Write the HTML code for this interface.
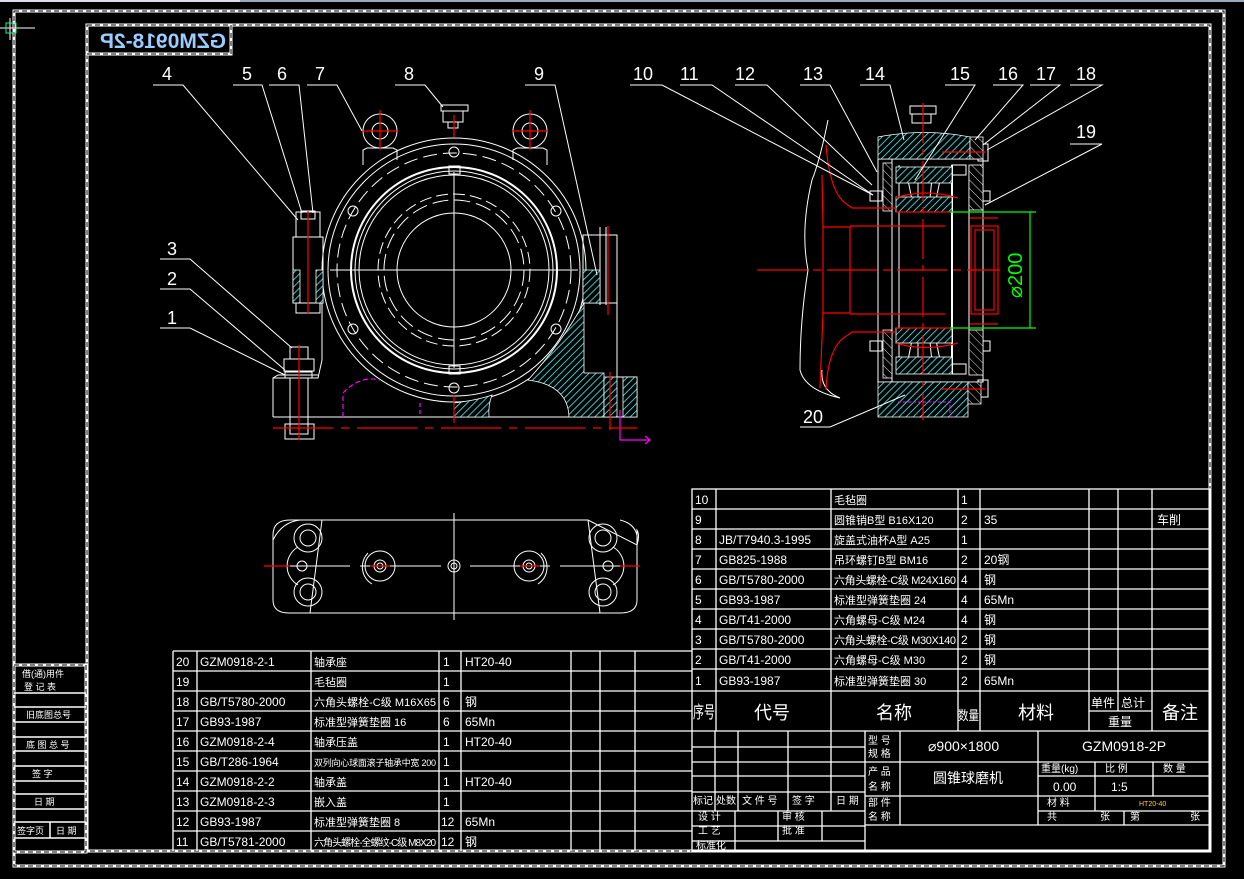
<!DOCTYPE html>
<html><head><meta charset="utf-8"><style>
html,body{margin:0;padding:0;background:#000;}
svg{display:block;}
text{font-family:"Liberation Sans","Noto Sans CJK SC",sans-serif;}
</style></head><body>
<svg width="1244" height="879" viewBox="0 0 1244 879" xmlns="http://www.w3.org/2000/svg">
<defs>
<pattern id="h" width="5" height="5" patternUnits="userSpaceOnUse" patternTransform="rotate(45)">
<rect width="5" height="5" fill="#000"/><line x1="0" y1="0" x2="0" y2="5" stroke="#3ff" stroke-width="1.6"/></pattern>
<pattern id="hw" width="6" height="6" patternUnits="userSpaceOnUse" patternTransform="rotate(-45)">
<rect width="6" height="6" fill="#000"/><line x1="0" y1="0" x2="0" y2="6" stroke="#ddd" stroke-width="1"/></pattern>
</defs>
<rect width="1244" height="879" fill="#000"/>
<rect x="0" y="0" width="240" height="2" fill="#dde"/><rect x="240" y="0" width="1004" height="2" fill="#9ab"/>
<!-- frames -->
<g fill="none">
<rect x="14" y="11" width="1210" height="855" stroke="#fff" stroke-width="3"/>
<rect x="14" y="11" width="1210" height="855" stroke="#000" stroke-width="1" stroke-dasharray="5 3"/>
<rect x="87" y="25" width="1123" height="826" stroke="#fff" stroke-width="3"/>
<rect x="87" y="25" width="1123" height="826" stroke="#000" stroke-width="1" stroke-dasharray="5 3"/>
<rect x="87" y="25" width="144" height="29" stroke="#fff" stroke-width="3"/>
<rect x="87" y="25" width="144" height="29" stroke="#000" stroke-width="1" stroke-dasharray="5 3"/>
<rect x="14" y="665" width="72" height="187" stroke="#fff" stroke-width="3"/>
<rect x="14" y="665" width="72" height="187" stroke="#000" stroke-width="1" stroke-dasharray="5 3"/>
</g>
<g stroke="#fff" stroke-width="1.5">
<line x1="14" y1="693" x2="86" y2="693"/><line x1="14" y1="707" x2="86" y2="707"/><line x1="14" y1="722" x2="86" y2="722"/>
<line x1="14" y1="737" x2="86" y2="737"/><line x1="14" y1="751" x2="86" y2="751"/><line x1="14" y1="766" x2="86" y2="766"/>
<line x1="14" y1="781" x2="86" y2="781"/><line x1="14" y1="794" x2="86" y2="794"/><line x1="14" y1="809" x2="86" y2="809"/>
<line x1="14" y1="822" x2="86" y2="822"/><line x1="14" y1="838" x2="86" y2="838"/><line x1="50" y1="822" x2="50" y2="838"/>
</g>
<g fill="#fff" font-size="9">
<text x="22" y="677">借(通)用件</text><text x="24" y="690">登 记 表</text><text x="26" y="718">旧底图总号</text>
<text x="26" y="748">底 图 总 号</text><text x="32" y="777">签  字</text><text x="34" y="805">日  期</text>
<text x="17" y="834">签字页</text><text x="56" y="834">日 期</text>
</g>
<g fill="none"><path d="M0 28 H35 M10 18 V40" stroke="#fff"/><rect x="6" y="23" width="10" height="10" stroke="#2e8"/></g>
<text transform="translate(226,48) scale(-1,1)" fill="#9cf" font-size="21" font-weight="bold" font-family="Liberation Mono,monospace">GZM0918-2P</text>

<!-- ============ FRONT VIEW ============ -->
<g fill="none" stroke="#fff" stroke-width="1">
<!-- base -->
<path d="M273 417 H637 V377 H617 V303"/>
<path d="M273 417 V378 H297"/>
<path d="M322 302 V360 L318 378 H305"/>
<circle cx="454" cy="270" r="132"/>
<circle cx="454" cy="270" r="126"/>
<circle cx="454" cy="270" r="117" stroke-dasharray="14 6"/>
<circle cx="454" cy="270" r="103" stroke-width="2"/>
<circle cx="454" cy="270" r="99"/>
<circle cx="454" cy="270" r="95"/>
<circle cx="454" cy="270" r="76" stroke-dasharray="12 5"/>
<circle cx="454" cy="270" r="70" stroke-dasharray="16 6"/>
<circle cx="454" cy="270" r="57"/>
<circle cx="353" cy="211" r="5"/><circle cx="556" cy="211" r="5"/><circle cx="353" cy="329" r="5"/><circle cx="556" cy="329" r="5"/>
<circle cx="454" cy="152" r="5"/><circle cx="454" cy="388" r="5"/>
<rect x="449" y="166" width="11" height="8"/><rect x="449" y="366" width="11" height="8"/>
<!-- lifting eyes -->
<circle cx="380" cy="131" r="17"/><circle cx="380" cy="131" r="8"/>
<circle cx="530" cy="131" r="17"/><circle cx="530" cy="131" r="8"/>
<path d="M363 165 V150 L367 148 H393 L397 150 V160"/><path d="M513 160 V150 L517 148 H543 L547 150 V165"/>
<!-- oil cup -->
<path d="M441 105 H468 V111 H441 Z M443 111 V122 H463 V111 M448 122 V128 H458 V122"/>
<!-- left bolt flange -->
<rect x="293" y="237" width="30" height="66"/>
<rect x="296" y="212" width="24" height="25"/><rect x="301" y="211" width="14" height="8"/>
<rect x="296" y="303" width="24" height="10"/>
<!-- right flange -->
<rect x="583" y="235" width="34" height="68"/>
<line x1="600" y1="227" x2="600" y2="305"/><line x1="606" y1="227" x2="606" y2="305"/>
<!-- bottom-left bolt -->
<rect x="290" y="347" width="18" height="12"/><rect x="284" y="359" width="30" height="12"/>
<rect x="285" y="372" width="27" height="6"/>
<rect x="290" y="378" width="18" height="56"/>
<rect x="285" y="424" width="29" height="15"/>
<path d="M273 378 L278 375 H318"/>
<!-- top view -->
<path d="M322 520 H588 L637 545 Q640 535 637 530 V600 Q637 613 620 613 H289 Q273 613 273 600 V535 Q273 520 290 520 H322 L310 613 M588 520 L600 613"/>
<path d="M300 520 Q282 522 273 540 M620 520 Q640 525 637 545"/>
<circle cx="308" cy="538" r="14"/><circle cx="308" cy="538" r="8"/>
<circle cx="308" cy="592" r="14"/><circle cx="308" cy="592" r="8"/>
<circle cx="603" cy="538" r="14"/><circle cx="603" cy="538" r="8"/>
<circle cx="603" cy="592" r="14"/><circle cx="603" cy="592" r="8"/>
<circle cx="302" cy="566" r="5"/><circle cx="608" cy="566" r="5"/>
<path d="M298 547 A22 22 0 0 0 298 585 M613 547 A22 22 0 0 1 613 585"/>
<circle cx="380" cy="566" r="15"/><circle cx="380" cy="566" r="6"/><circle cx="380" cy="566" r="3"/>
<circle cx="529" cy="566" r="15"/><circle cx="529" cy="566" r="6"/><circle cx="529" cy="566" r="3"/>
<path d="M368 553 A20 20 0 0 0 372 584 M541 553 A20 20 0 0 1 538 584"/>
<circle cx="454" cy="566" r="6"/><circle cx="454" cy="566" r="3"/>
<line x1="454" y1="513" x2="454" y2="620"/><line x1="283" y1="566" x2="350" y2="566"/><line x1="360" y1="566" x2="441" y2="566"/><line x1="470" y1="566" x2="550" y2="566"/><line x1="560" y1="566" x2="630" y2="566"/>
<!-- center lines -->
<line x1="454" y1="172" x2="454" y2="368"/>
<line x1="330" y1="270" x2="578" y2="270"/>
</g>
<!-- hatch regions front -->
<g stroke="#fff" stroke-width="0.8">
<rect x="293" y="270" width="7" height="33" fill="url(#h)"/><rect x="316" y="270" width="7" height="33" fill="url(#h)"/>
<path d="M583 270 H600 V303 H583 Z" fill="url(#h)"/>
<path d="M584 303 V373 H604 V417 H569 Q568 385 528 380 Q560 345 584 303Z" fill="url(#h)"/>
<path d="M604 377 H617 V417 H604Z M623 377 H637 V417 H623Z" fill="url(#h)"/>
<path d="M454 403 Q478 400 492 395 Q488 405 489 417 H454Z" fill="url(#h)"/>
</g>
<g fill="none" stroke="#f0f" stroke-width="1.2">
<path d="M343 417 V393 Q360 375 380 380" stroke-dasharray="5 3"/>
<path d="M420 403 V417" stroke-dasharray="4 3"/>
<path d="M620 410 V440 H650 M645 436 L650 440 L645 444"/>
</g>
<g stroke="#f00" stroke-width="1.2" fill="none">
<line x1="380" y1="110" x2="380" y2="150"/><line x1="362" y1="131" x2="398" y2="131"/>
<line x1="530" y1="110" x2="530" y2="150"/><line x1="512" y1="131" x2="548" y2="131"/>
<line x1="454" y1="115" x2="454" y2="137"/>
<line x1="308" y1="211" x2="308" y2="314"/><line x1="608" y1="226" x2="608" y2="315"/>
<line x1="299" y1="345" x2="299" y2="440"/>
<line x1="273" y1="428" x2="637" y2="428" stroke-dasharray="60 8 8 8"/>
<line x1="610" y1="372" x2="610" y2="430"/>
<line x1="454" y1="395" x2="454" y2="423"/>
<line x1="264" y1="566" x2="290" y2="566"/><line x1="620" y1="566" x2="640" y2="566"/>
<line x1="370" y1="566" x2="390" y2="566"/><line x1="520" y1="566" x2="540" y2="566"/>
</g>

<!-- ============ SECTION VIEW ============ -->
<g fill="none" stroke="#fff" stroke-width="1">
<path d="M828 120 Q820 160 812 180 Q800 230 808 270 Q800 320 800 370 Q805 390 840 398 Q820 390 822 370"/>
<rect x="878" y="159" width="105" height="223"/>
<line x1="892" y1="159" x2="892" y2="382"/><line x1="899" y1="165" x2="899" y2="374"/>
<line x1="952" y1="165" x2="952" y2="374" stroke-width="2"/>
<line x1="969" y1="165" x2="969" y2="374"/>
<rect x="952" y="165" width="14" height="10"/><rect x="952" y="364" width="14" height="10"/>
<path d="M908 180 L912 200 M918 178 L918 198 M932 178 L930 198 M940 180 L936 200"/>
<path d="M908 360 L912 340 M918 362 L918 342 M932 362 L930 342 M940 360 L936 340"/>
<!-- bolts -->
<rect x="940" y="148" width="40" height="9"/><rect x="978" y="144" width="10" height="17"/>
<rect x="940" y="385" width="40" height="9"/><rect x="978" y="380" width="10" height="17"/>
<rect x="870" y="191" width="12" height="10"/><rect x="870" y="341" width="12" height="10"/>
<rect x="978" y="191" width="12" height="10"/><rect x="978" y="341" width="12" height="10"/>
<path d="M910 106 H936 V114 H910Z M912 114 V123 H931 V114"/>
</g>
<g stroke="#fff" stroke-width="0.8">
<path d="M878 137 Q925 128 970 137 V159 H878Z" fill="url(#h)"/>
<path d="M878 382 H968 V417 H878Z" fill="url(#h)"/>
<rect x="896" y="167" width="56" height="16" fill="url(#h)"/>
<rect x="896" y="197" width="56" height="15" fill="url(#h)"/>
<rect x="896" y="328" width="56" height="15" fill="url(#h)"/>
<rect x="896" y="357" width="56" height="17" fill="url(#h)"/>
<rect x="883" y="163" width="9" height="48" fill="url(#hw)"/><rect x="883" y="330" width="9" height="48" fill="url(#hw)"/>
<rect x="969" y="165" width="14" height="45" fill="url(#hw)"/><rect x="969" y="330" width="14" height="45" fill="url(#hw)"/>
<rect x="970" y="137" width="13" height="22" fill="url(#hw)"/><rect x="968" y="382" width="13" height="22" fill="url(#hw)"/>
</g>
<g fill="none" stroke="#f00" stroke-width="1.2">
<path d="M826 145 Q830 195 848 205 L852 208 H896"/>
<path d="M826 390 Q828 345 848 335 L852 332 H896"/>
<path d="M822 175 L823 227 V313 L820 388"/>
<path d="M823 227 H850 V313 H823 M850 226 H945 M850 314 H945"/>
<line x1="896" y1="212" x2="952" y2="212"/><line x1="896" y1="328" x2="952" y2="328"/>
<path d="M895 198 Q925 188 958 198 M895 343 Q925 352 958 343"/>
<rect x="971" y="226" width="27" height="88"/><rect x="975" y="230" width="19" height="80"/>
<path d="M970 218 H998 M970 324 H998"/>
<line x1="757" y1="270" x2="1000" y2="270" stroke-dasharray="50 6 8 6"/>
<line x1="923" y1="103" x2="923" y2="420" stroke-dasharray="40 6 6 6"/>
<line x1="942" y1="152" x2="985" y2="152"/><line x1="942" y1="389" x2="985" y2="389"/>
</g>
<path d="M898 402 H950 V417" fill="none" stroke="#f0f" stroke-dasharray="3 2"/>
<g stroke="#0f0" stroke-width="1.2" fill="none">
<line x1="950" y1="212" x2="1036" y2="212"/><line x1="950" y1="328" x2="1036" y2="328"/>
<line x1="1030" y1="212" x2="1030" y2="328"/>
</g>
<text transform="translate(1022,298) rotate(-90)" fill="#0f0" font-size="20">⌀200</text>

<!-- leaders -->
<g stroke="#fff" stroke-width="1" fill="none">
<path d="M153 85 H183 L298 220"/><path d="M233 85 H262 L302 213"/><path d="M269 85 H299 L313 213"/>
<path d="M307 85 H337 L362 131"/><path d="M395 85 H425 L443 107"/><path d="M525 85 H555 L597 275"/>
<path d="M160 259 H190 L292 348"/><path d="M160 289 H190 L285 370"/><path d="M160 328 H190 L285 375"/>
<path d="M630 85 H662 L873 195"/><path d="M680 85 H712 L873 195"/><path d="M735 85 H767 L872 185"/>
<path d="M800 85 H830 L877 172"/><path d="M860 85 H890 L904 140"/><path d="M945 85 H975 L915 180"/>
<path d="M993 85 H1023 L975 140"/><path d="M1030 85 H1060 L983 145"/><path d="M1070 85 H1102 L987 150"/>
<path d="M1070 144 H1102 L985 205"/><path d="M800 427 H830 L905 395"/>
</g>
<g fill="#fff" font-size="18">
<text x="162" y="80">4</text><text x="242" y="80">5</text><text x="277" y="80">6</text><text x="315" y="80">7</text>
<text x="404" y="80">8</text><text x="534" y="80">9</text>
<text x="167" y="255">3</text><text x="167" y="285">2</text><text x="167" y="324">1</text>
<text x="633" y="80">10</text><text x="680" y="80">11</text><text x="735" y="80">12</text><text x="803" y="80">13</text>
<text x="865" y="80">14</text><text x="950" y="80">15</text><text x="998" y="80">16</text><text x="1036" y="80">17</text>
<text x="1076" y="80">18</text><text x="1076" y="138">19</text><text x="803" y="423">20</text>
</g>

<!-- ============ UPPER RIGHT TABLE ============ -->
<g stroke="#fff" stroke-width="1.3" fill="none">
<rect x="692" y="489" width="518" height="362"/>
<path d="M692 509 H1210 M692 529 H1210 M692 549 H1210 M692 569 H1210 M692 589 H1210 M692 609 H1210 M692 629 H1210 M692 649 H1210 M692 669 H1210 M692 691 H1210 M692 731 H1210"/>
<path d="M716 489 V731 M831 489 V731 M958 489 V731 M980 489 V731 M1089 489 V731 M1118 489 V711 M1152 489 V731 M1089 711 H1152"/>
<!-- title block -->
<path d="M692 747 H865 M692 762 H865 M692 776 H865 M692 792 H865 M692 811 H865 M692 826 H865 M692 841 H865"/>
<path d="M715 731 V811 M738 731 V811 M788 731 V811 M831 731 V811 M865 731 V851"/>
<path d="M735 811 V851 M778 811 V841 M822 811 V841"/>
<path d="M865 762 H1210 M865 796 H1210 M1038 811 H1210 M1038 825 H1210 M1038 776 H1210"/>
<path d="M900 731 V825 M1038 731 V825 M1095 762 V811 M1153 762 V796 M1124 811 V825"/>
<path d="M865 825 H1038"/>
</g>
<g fill="#fff" font-size="12">
<text x="695" y="504">10</text><text x="695" y="524">9</text><text x="695" y="544">8</text><text x="695" y="564">7</text><text x="695" y="584">6</text>
<text x="695" y="604">5</text><text x="695" y="624">4</text><text x="695" y="644">3</text><text x="695" y="664">2</text><text x="695" y="685">1</text>
<text x="719" y="544">JB/T7940.3-1995</text><text x="719" y="564">GB825-1988</text><text x="719" y="584">GB/T5780-2000</text>
<text x="719" y="604">GB93-1987</text><text x="719" y="624">GB/T41-2000</text><text x="719" y="644">GB/T5780-2000</text>
<text x="719" y="664">GB/T41-2000</text><text x="719" y="685">GB93-1987</text>
<g font-size="11">
<text x="834" y="504">毛毡圈</text><text x="834" y="524">圆锥销B型 B16X120</text><text x="834" y="544">旋盖式油杯A型 A25</text>
<text x="834" y="564">吊环螺钉B型 BM16</text><text x="834" y="584" textLength="122">六角头螺栓-C级 M24X160</text>
<text x="834" y="604">标准型弹簧垫圈 24</text><text x="834" y="624">六角螺母-C级 M24</text>
<text x="834" y="644" textLength="122">六角头螺栓-C级 M30X140</text><text x="834" y="664">六角螺母-C级 M30</text>
<text x="834" y="685">标准型弹簧垫圈 30</text>
</g>
<text x="961" y="504">1</text><text x="961" y="524">2</text><text x="961" y="544">1</text><text x="961" y="564">2</text><text x="961" y="584">4</text>
<text x="961" y="604">4</text><text x="961" y="624">4</text><text x="961" y="644">2</text><text x="961" y="664">2</text><text x="961" y="685">2</text>
<text x="984" y="524">35</text><text x="984" y="564">20钢</text><text x="984" y="584">钢</text><text x="984" y="604">65Mn</text>
<text x="984" y="624">钢</text><text x="984" y="644">钢</text><text x="984" y="664">钢</text><text x="984" y="685">65Mn</text>
<text x="1157" y="524">车削</text>
</g>
<g fill="#fff">
<text x="693" y="718" font-size="17" textLength="22" lengthAdjust="spacingAndGlyphs">序号</text>
<text x="754" y="719" font-size="18">代号</text><text x="876" y="719" font-size="18">名称</text>
<text x="958" y="720" font-size="13" textLength="21" lengthAdjust="spacingAndGlyphs">数量</text>
<text x="1018" y="719" font-size="18">材料</text><text x="1162" y="719" font-size="18">备注</text>
<text x="1091" y="707" font-size="12">单件</text><text x="1121" y="707" font-size="12">总计</text><text x="1108" y="726" font-size="12">重量</text>
<g font-size="10">
<text x="868" y="744">型 号</text><text x="868" y="757">规 格</text><text x="868" y="775">产 品</text><text x="868" y="790">名 称</text>
<text x="868" y="806">部 件</text><text x="868" y="820">名 称</text>
<text x="693" y="804">标记</text><text x="716" y="804">处数</text><text x="742" y="804">文 件 号</text><text x="792" y="804">签  字</text><text x="836" y="804">日 期</text>
<text x="698" y="820">设  计</text><text x="782" y="820">审 核</text><text x="698" y="834">工  艺</text><text x="782" y="834">批 准</text><text x="696" y="849">标准化</text>
<text x="1041" y="772">重量(kg)</text><text x="1105" y="772">比   例</text><text x="1163" y="772">数   量</text>
<text x="1047" y="806">材   料</text><text x="1047" y="820">共</text><text x="1100" y="820">张</text><text x="1130" y="820">第</text><text x="1190" y="820">张</text>
</g>
<text x="928" y="751" font-size="14">⌀900×1800</text>
<text x="1082" y="751" font-size="14">GZM0918-2P</text>
<text x="933" y="783" font-size="14">圆锥球磨机</text>
<text x="1053" y="791" font-size="12">0.00</text><text x="1111" y="791" font-size="12">1:5</text>
<text x="1139" y="806" font-size="7" fill="#fc3">HT20-40</text>
</g>

<!-- ============ LOWER LEFT TABLE ============ -->
<g stroke="#fff" stroke-width="1.3" fill="none">
<path d="M173 651 H692 M173 671 H692 M173 691 H692 M173 711 H692 M173 731 H692 M173 751 H692 M173 771 H692 M173 791 H692 M173 811 H692 M173 831 H692"/>
<path d="M173 651 V851 M197 651 V851 M311 651 V851 M439 651 V851 M461 651 V851 M571 651 V851 M600 651 V851 M635 651 V851"/>
</g>
<g fill="#fff" font-size="12">
<text x="176" y="666">20</text><text x="176" y="686">19</text><text x="176" y="706">18</text><text x="176" y="726">17</text><text x="176" y="746">16</text>
<text x="176" y="766">15</text><text x="176" y="786">14</text><text x="176" y="806">13</text><text x="176" y="826">12</text><text x="176" y="846">11</text>
<text x="200" y="666">GZM0918-2-1</text><text x="200" y="706">GB/T5780-2000</text><text x="200" y="726">GB93-1987</text>
<text x="200" y="746">GZM0918-2-4</text><text x="200" y="766">GB/T286-1964</text><text x="200" y="786">GZM0918-2-2</text>
<text x="200" y="806">GZM0918-2-3</text><text x="200" y="826">GB93-1987</text><text x="200" y="846">GB/T5781-2000</text>
<g font-size="11">
<text x="314" y="666">轴承座</text><text x="314" y="686">毛毡圈</text><text x="314" y="706" textLength="122">六角头螺栓-C级 M16X65</text>
<text x="314" y="726">标准型弹簧垫圈 16</text><text x="314" y="746">轴承压盖</text>
<text x="314" y="766" font-size="9" textLength="122">双列向心球面滚子轴承中宽 200</text>
<text x="314" y="786">轴承盖</text><text x="314" y="806">嵌入盖</text><text x="314" y="826">标准型弹簧垫圈 8</text>
<text x="314" y="846" font-size="10" textLength="122">六角头螺栓-全螺纹-C级 M8X20</text>
</g>
<text x="443" y="666">1</text><text x="443" y="686">1</text><text x="443" y="706">6</text><text x="443" y="726">6</text><text x="443" y="746">1</text>
<text x="443" y="766">1</text><text x="443" y="786">1</text><text x="443" y="806">1</text><text x="441" y="826">12</text><text x="441" y="846">12</text>
<text x="465" y="666">HT20-40</text><text x="465" y="706">钢</text><text x="465" y="726">65Mn</text><text x="465" y="746">HT20-40</text>
<text x="465" y="786">HT20-40</text><text x="465" y="826">65Mn</text><text x="465" y="846">钢</text>
</g>
</svg>
</body></html>
